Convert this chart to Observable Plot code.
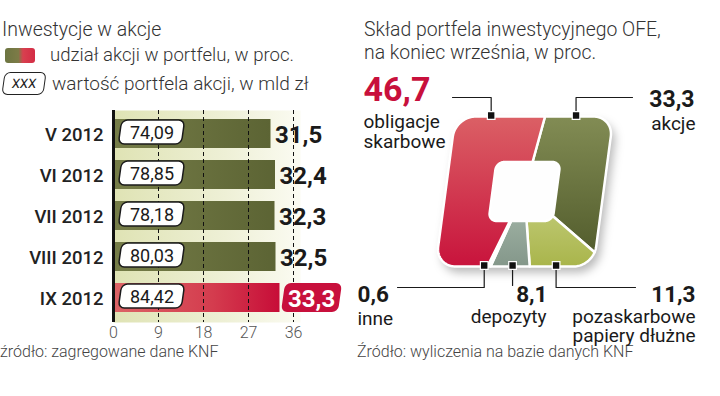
<!DOCTYPE html>
<html>
<head>
<meta charset="utf-8">
<script src="https://cdn.jsdelivr.net/npm/d3@7"></script>
<script src="https://cdn.jsdelivr.net/npm/@observablehq/plot@0.6"></script>
<style>
  html, body { margin: 0; padding: 0; background: #fff; }
  #wrap { position: relative; width: 720px; height: 396px; overflow: hidden; background: #fff; font-family: Roboto, sans-serif; color: #333; }
  .t { position: absolute; white-space: nowrap; font-weight: 300; }
  #left, #right { position: absolute; top: 0; }
  #left { left: 0; }
  #right { left: 350px; }
</style>
</head>
<body>
<div id="wrap">
  <div class="t" style="left:2px;top:20px;font-size:19.5px;line-height:20px;">Inwestycje w akcje</div>
  <div style="position:absolute;left:5px;top:48px;width:30px;height:15px;border-radius:3px;background:linear-gradient(90deg,#6c7541 0%,#7d7b47 45%,#d8404f 60%,#d42c45 100%);"></div>
  <div class="t" style="left:50px;top:46px;font-size:18.6px;line-height:19px;">udział akcji w portfelu, w proc.</div>
  <div style="position:absolute;left:3px;top:72px;width:40px;height:21px;border:1.5px solid #222;border-radius:6px;transform:skewX(-8deg);font-size:13px;line-height:21px;text-align:center;color:#222;">XXX</div>
  <div class="t" style="left:52px;top:74px;font-size:19px;line-height:19px;">wartość portfela akcji, w mld zł</div>
  <div class="t" style="left:364px;top:18px;font-size:19.4px;line-height:23px;">Skład portfela inwestycyjnego OFE,<br>na koniec września, w proc.</div>
  <div class="t" style="left:0px;top:344px;font-size:16px;line-height:16px;color:#444;">źródło: zagregowane dane KNF</div>
  <div class="t" style="left:357px;top:344px;font-size:16px;line-height:16px;color:#444;">Źródło: wyliczenia na bazie danych KNF</div>
  <div id="left"></div>
  <div id="right"></div>
</div>
<script>
// ---------- data ----------
const months = ["V 2012", "VI 2012", "VII 2012", "VIII 2012", "IX 2012"];
const shares = [31.5, 32.4, 32.3, 32.5, 33.3];          // udział akcji w portfelu, %
const values = [74.09, 78.85, 78.18, 80.03, 84.42];     // wartość portfela akcji, mld zł
const xTicks = [0, 9, 18, 27, 36];

const pieNames = ["akcje", "pozaskarbowe papiery dłużne", "depozyty", "inne", "obligacje skarbowe"];
const pieShares = [33.3, 11.3, 8.1, 0.6, 46.7];

// ---------- helpers ----------
const f1 = v => d3.format(".1f")(v).replace(".", ",");
const f2 = v => d3.format(".2f")(v).replace(".", ",");
const highlight = "IX 2012";

const rows = months.map((m, i) => ({month: m, share: shares[i], value: values[i]}));

function addDefs(svg, grads) {
  const defs = d3.select(svg).insert("defs", ":first-child");
  grads.forEach(g => {
    const lg = defs.append("linearGradient").attr("id", g.id)
      .attr("x1", g.x1 ?? 0).attr("y1", g.y1 ?? 0).attr("x2", g.x2 ?? 0).attr("y2", g.y2 ?? 1);
    g.stops.forEach(([o, c]) => lg.append("stop").attr("offset", o).attr("stop-color", c));
  });
}
function skewRects(svg, selector, deg) {
  svg.querySelectorAll(selector).forEach(r => {
    const x = +r.getAttribute("x"), y = +r.getAttribute("y");
    const w = +r.getAttribute("width"), h = +r.getAttribute("height");
    const cx = x + w / 2, cy = y + h / 2;
    r.setAttribute("transform", `translate(${cx},${cy}) skewX(${deg}) translate(${-cx},${-cy})`);
  });
}

// ---------- left: bar chart ----------
const left = Plot.plot({
  width: 350, height: 396,
  marginLeft: 113, marginRight: 50, marginTop: 110, marginBottom: 74,
  x: {domain: [0, 36], range: [113, 293], axis: null},
  y: {domain: months, range: [105, 327], padding: 0.286, axis: null},
  style: {fontFamily: "Roboto, sans-serif", background: "transparent", overflow: "visible"},
  marks: [
    Plot.frame({fill: "url(#bgGrad)", stroke: "none"}),
    Plot.barX(rows.filter(d => d.month !== highlight), {x: "share", y: "month", fill: "url(#greenBar)"}),
    Plot.barX(rows.filter(d => d.month === highlight), {x: "share", y: "month", fill: "url(#redBar)"}),
    Plot.ruleX(xTicks.slice(1), {stroke: "#111", strokeWidth: 1, strokeDasharray: "4,3"}),
    Plot.ruleX([0], {stroke: "#111", strokeWidth: 3}),
    Plot.barX(rows, {x1: () => 1.4, x2: () => 14, y: "month", insetTop: 1, insetBottom: 4, rx: 6,
      fill: "#fffffe", stroke: "#1a1a1a", strokeWidth: 1.5}),
    Plot.text(rows, {x: () => 7.7, y: "month", dy: -1, text: d => f2(d.value), fontSize: 18, fill: "#1a1a1a"}),
    Plot.barX(rows.filter(d => d.month === highlight), {x1: d => d.share + 0.7, x2: d => d.share + 12.1, y: "month",
      rx: 6, fill: "#c8103c"}),
    Plot.text(rows.filter(d => d.month !== highlight), {x: "share", y: "month", dx: 4, dy: 1, textAnchor: "start",
      text: d => f1(d.share), fontSize: 24, fontWeight: 700, fill: "#1a1a1a"}),
    Plot.text(rows.filter(d => d.month === highlight), {x: "share", y: "month", dx: 8, dy: 1, textAnchor: "start",
      text: d => f1(d.share), fontSize: 24, fontWeight: 700, fill: "#fff"}),
    Plot.text(rows, {y: "month", text: "month", frameAnchor: "left", textAnchor: "end", dx: -10, dy: 1,
      fontSize: 18.5, fontWeight: 500, fill: "#222"}),
    Plot.text(xTicks, {x: d => d, text: d => String(d), frameAnchor: "bottom", lineAnchor: "bottom", dy: 15,
      fontSize: 16, fontWeight: 300, fill: "#555"})
  ]
});
addDefs(left, [
  {id: "bgGrad", x2: 1, y2: 0, stops: [[0, "#dfe3b4"], [0.6, "#eef0d6"], [1, "#fbfbf2"]]},
  {id: "greenBar", x2: 1, y2: 0, stops: [[0, "#767d48"], [1, "#5c6434"]]},
  {id: "redBar", x2: 1, y2: 0, stops: [[0, "#dc6466"], [0.6, "#d43c4e"], [1, "#c70d38"]]}
]);
skewRects(left, 'g[fill="#fffffe"] rect', -8);
skewRects(left, 'g[fill="#c8103c"] rect', -8);
document.getElementById("left").appendChild(left);

// ---------- right: square "pie" ----------
const CX = 524, CY = 191, K = 0.133;
const OUT = {hw: 79, hh: 75, r: 20}, IN = {hw: 32, hh: 29.5, r: 8};
function ray(theta, s) {
  const dx = Math.sin(theta), dy = -Math.cos(theta);
  let t = Math.min(Math.abs(dx) > 1e-9 ? s.hw / Math.abs(dx) : Infinity,
                   Math.abs(dy) > 1e-9 ? s.hh / Math.abs(dy) : Infinity);
  let px = t * dx, py = t * dy;
  if (Math.abs(px) > s.hw - s.r && Math.abs(py) > s.hh - s.r) {
    const cx = Math.sign(dx) * (s.hw - s.r), cy = Math.sign(dy) * (s.hh - s.r);
    const b = dx * cx + dy * cy, c = cx * cx + cy * cy - s.r * s.r;
    t = b + Math.sqrt(Math.max(0, b * b - c));
    px = t * dx; py = t * dy;
  }
  return {x: CX + px - K * py, y: CY + py};
}
const START = 8 * Math.PI / 180;
const pieRows = pieNames.map((n, i) => ({name: n, value: pieShares[i]}));
const arcs = d3.pie().sort(null).value(d => d.value).startAngle(START).endAngle(START + 2 * Math.PI)(pieRows);
const sliceFill = {
  "akcje": "url(#gAk)", "pozaskarbowe papiery dłużne": "url(#gPo)", "depozyty": "url(#gDe)",
  "inne": "#f1f1f1", "obligacje skarbowe": "url(#gOb)"
};
const step = 0.5 * Math.PI / 180;
const slices = arcs.map(a => {
  const n = Math.max(2, Math.ceil((a.endAngle - a.startAngle) / step));
  const pts = [];
  for (let i = 0; i <= n; i++) pts.push(ray(a.startAngle + (a.endAngle - a.startAngle) * i / n, OUT));
  for (let i = n; i >= 0; i--) pts.push(ray(a.startAngle + (a.endAngle - a.startAngle) * i / n, IN));
  pts.push(pts[0]);
  return {name: a.data.name, pts};
});
const outline = d3.range(0, 721).map(i => ray(i * Math.PI / 360, OUT));

const layout = {
  "obligacje skarbowe": {angle: 330, elbowY: 97, endX: 452, numX: 363, numY: 100, numSize: 34, numColor: "#c8103c", anchor: "start", lines: ["obligacje", "skarbowe"], lineX: 363, lineY: [127, 147]},
  "akcje": {angle: 29, elbowY: 97, endX: 632, numX: 694, numY: 106, numSize: 23, numColor: "#1a1a1a", anchor: "end", lines: ["akcje"], lineX: 695, lineY: [129]},
  "inne": {angle: 202, elbowY: 287, endX: 397, numX: 357, numY: 301, numSize: 22.5, numColor: "#1a1a1a", anchor: "start", lines: ["inne"], lineX: 357, lineY: [324]},
  "depozyty": {angle: 181.5, elbowY: 285, endX: null, numX: 547, numY: 301, numSize: 22.5, numColor: "#1a1a1a", anchor: "end", lines: ["depozyty"], lineX: 546, lineY: [322]},
  "pozaskarbowe papiery dłużne": {angle: 151, elbowY: 287, endX: 635, numX: 695, numY: 301, numSize: 22.5, numColor: "#1a1a1a", anchor: "end", lines: ["pozaskarbowe", "papiery dłużne"], lineX: 695, lineY: [322, 341]}
};
const squares = [], leaders = [], nums = [], names = [];
pieRows.forEach(d => {
  const L = layout[d.name];
  const s = ray(L.angle * Math.PI / 180, OUT);
  squares.push({name: d.name, x: s.x, y: s.y - 1});
  leaders.push({name: d.name, x: s.x, y: s.y});
  leaders.push({name: d.name, x: s.x, y: L.elbowY});
  if (L.endX != null) leaders.push({name: d.name, x: L.endX, y: L.elbowY});
  nums.push({x: L.numX, y: L.numY, text: f1(d.value), anchor: L.anchor, size: L.numSize, color: L.numColor});
  L.lines.forEach((t, i) => names.push({x: L.lineX, y: L.lineY[i], text: t, anchor: L.anchor}));
});

const right = Plot.plot({
  width: 370, height: 396, margin: 0,
  x: {domain: [350, 720], range: [0, 370], axis: null},
  y: {domain: [0, 396], range: [0, 396], axis: null},
  style: {fontFamily: "Roboto, sans-serif", background: "transparent", overflow: "visible"},
  marks: [
    Plot.line(outline, {x: "x", y: "y", fill: "#fefefe", stroke: "none"}),
    ...slices.map(s => Plot.line(s.pts, {x: "x", y: "y", fill: sliceFill[s.name], stroke: "#fff", strokeWidth: 2.5, strokeLinejoin: "round"})),
    Plot.line(leaders, {x: "x", y: "y", z: "name", stroke: "#1a1a1a", strokeWidth: 1.2}),
    Plot.dot(squares, {x: "x", y: "y", symbol: "square", r: 4.3, fill: "#111", stroke: "#fff", strokeWidth: 1.2}),
    Plot.text(nums.filter(d => d.anchor === "start"), {x: "x", y: "y", text: "text", textAnchor: "start", lineAnchor: "bottom", fontSize: "size", fill: "color", fontWeight: 700}),
    Plot.text(nums.filter(d => d.anchor === "end"), {x: "x", y: "y", text: "text", textAnchor: "end", lineAnchor: "bottom", fontSize: "size", fill: "color", fontWeight: 700}),
    Plot.text(names.filter(d => d.anchor === "start"), {x: "x", y: "y", text: "text", textAnchor: "start", lineAnchor: "bottom", fontSize: 19, fill: "#1a1a1a"}),
    Plot.text(names.filter(d => d.anchor === "end"), {x: "x", y: "y", text: "text", textAnchor: "end", lineAnchor: "bottom", fontSize: 19, fill: "#1a1a1a"})
  ]
});
addDefs(right, [
  {id: "gAk", stops: [[0, "#828c54"], [1, "#535d2d"]]},
  {id: "gPo", stops: [[0, "#bcc66e"], [1, "#a9b54b"]]},
  {id: "gDe", stops: [[0, "#9aad9f"], [1, "#84978a"]]},
  {id: "gOb", stops: [[0, "#db6065"], [1, "#c8133c"]]}
]);
right.querySelectorAll('g[fill="#fefefe"]').forEach(g => g.style.filter = "drop-shadow(4px 6px 5px rgba(0,0,0,0.28))");
document.getElementById("right").appendChild(right);
</script>
</body>
</html>
